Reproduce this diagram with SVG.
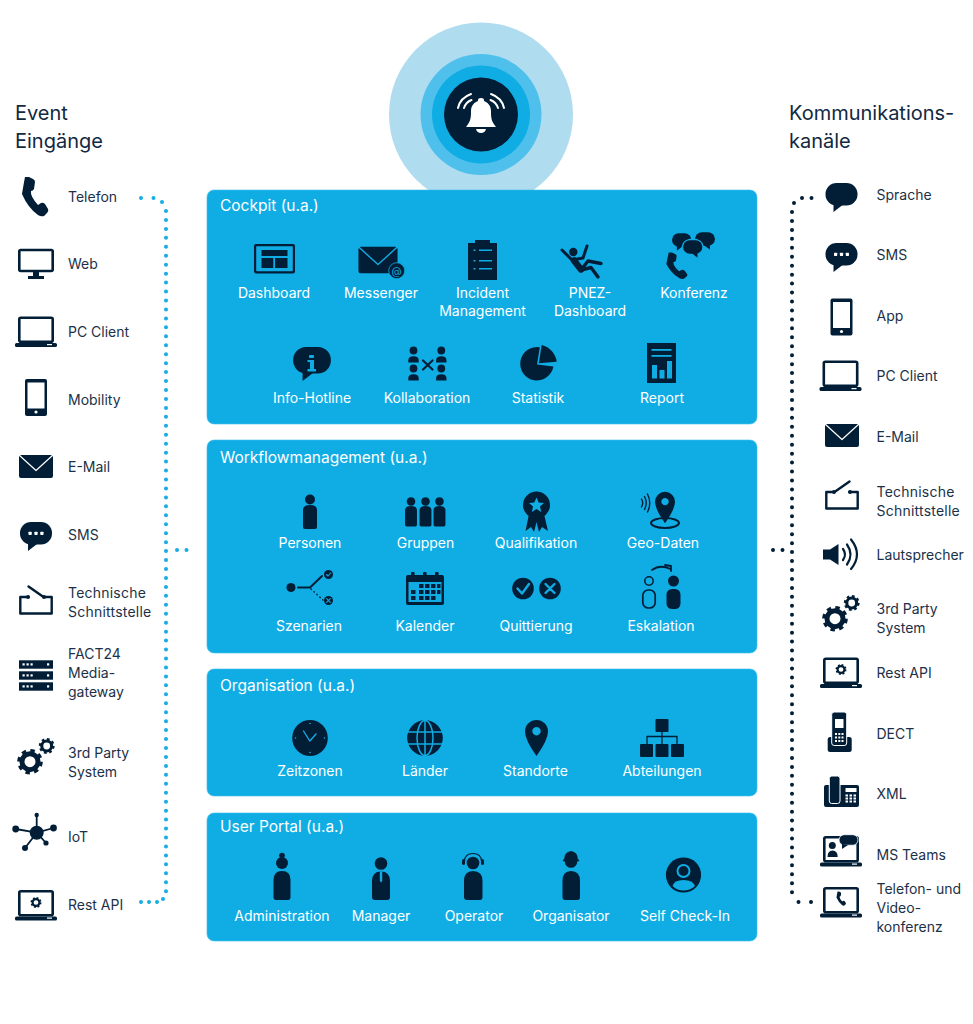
<svg xmlns="http://www.w3.org/2000/svg" width="973" height="1024" viewBox="0 0 973 1024">
<style>
text{font-family:Inter,"Noto Sans","Liberation Sans",sans-serif}
.h{font-size:20px;fill:#12293f}
.l{font-size:14px;fill:#1b3148}
.ls{letter-spacing:.22px}
.t{font-size:15.500px;fill:#fff}
.c{font-size:14px;fill:#fff;text-anchor:middle}
.p{fill:#10ade5;stroke:#3dbdea;stroke-width:.6}
.w{color:#fff}
.b{color:#10ade5}
.k{fill:#011e36}
.s{fill:none;stroke:#011e36;stroke-linecap:round;stroke-linejoin:round}
.x{fill:currentColor}
.y{fill:none;stroke:currentColor;stroke-linecap:round;stroke-linejoin:round}
.db{fill:none;stroke:#16ace4;stroke-width:4;stroke-linecap:round}
.dk{fill:none;stroke:#011e36;stroke-width:4;stroke-linecap:round}
</style>
<defs>
<symbol id="phone" overflow="visible"><path class="k" d="M-7-20-3-18Q-1-17-1-15L-2-8Q-3-6-5-6-6-1 2 8L5 6Q7 5 9 7L12 12Q13 14 11 16L8 19Q5 20 2 18-8 11-14-3-12-15-11-20-7-20Z"/></symbol>
<symbol id="monitor" overflow="visible"><rect class="s" x="-16.700" y="-14" width="33.400" height="21" rx="1.500" stroke-width="2.600"/><path class="k" d="M-3 8H3V12H8V15H-8V12H-3Z"/></symbol>
<symbol id="laptop" overflow="visible"><rect class="s" x="-16.700" y="-14.300" width="33.400" height="24" rx="1.500" stroke-width="2.600"/><rect class="k" x="-21" y="11" width="42" height="4" rx="1.600"/><rect x="11" y="12" width="5" height="1.200" class="x"/></symbol>
<symbol id="mobile" overflow="visible"><rect class="k" x="-11" y="-18.500" width="22" height="37" rx="2"/><rect class="x" x="-8.500" y="-15" width="17" height="26"/><circle class="x" cy="14.500" r="1.600"/></symbol>
<symbol id="mail" overflow="visible"><rect class="k" x="-17" y="-11.500" width="34" height="23" rx="2"/><path class="y" d="M-17-11.500 0 4 17-11.500" stroke-width="1.200"/></symbol>
<symbol id="bubble" overflow="visible"><rect class="k" x="-16" y="-14.500" width="32" height="22.500" rx="11"/><path class="k" d="M-8 5V14.500L3 6Z"/></symbol>
<symbol id="sms" overflow="visible"><use href="#bubble"/><rect class="x" x="-7.500" y="-4.800" width="3.200" height="3.200" rx=".6"/><rect class="x" x="-1.600" y="-4.800" width="3.200" height="3.200" rx=".6"/><rect class="x" x="4.300" y="-4.800" width="3.200" height="3.200" rx=".6"/></symbol>
<symbol id="switch" overflow="visible"><path class="s" stroke-width="2.400" d="M-7.500-3.500H-15.700V13H15.700V-3.500H7.500L-7.500-14"/><circle class="k" cx="-8" cy="-3.500" r="2"/><circle class="k" cx="8" cy="-3.500" r="2"/></symbol>
<symbol id="srow" overflow="visible"><rect class="k" x="-17" y="-4.200" width="34" height="8.400"/><rect class="x" x="-13.500" y="-1.200" width="2.200" height="2.200"/><rect class="x" x="-9.500" y="-1.200" width="2.200" height="2.200"/><rect class="x" x="-5.500" y="-1.200" width="2.200" height="2.200"/><rect class="x" x="11" y="-1.200" width="2.200" height="2.200"/></symbol>
<symbol id="gear" overflow="visible"><circle class="s" r="8" stroke-width="5"/><circle r="11" fill="none" stroke="#011e36" stroke-width="3.600" stroke-dasharray="4.400 4.240"/></symbol>
<symbol id="gears" overflow="visible"><use href="#gear" transform="translate(-6 4.700)"/><use href="#gear" transform="translate(10.700 -11) scale(.62)"/></symbol>
<symbol id="person" overflow="visible"><circle class="k" cy="-12.500" r="5"/><path class="k" d="M-7-2Q-7-7 0-7 7-7 7-2V15Q7 17 5 17H-5Q-7 17-7 15Z"/></symbol>
<symbol id="mini" overflow="visible"><circle class="k" r="3.900"/><path class="k" d="M-5.200 12V10Q-5.200 5.800 0 5.800 5.200 5.800 5.200 10V12Z"/></symbol>
<symbol id="pin" overflow="visible"><path class="k" fill-rule="evenodd" d="M0 18Q-11.500 2-11.500-6.500A11.500 11.500 0 0 1 11.500-6.500Q11.500 2 0 18ZM0-11A4.200 4.200 0 1 0 .01-11Z"/></symbol>
</defs>

<g id="alarm">
<circle cx="481" cy="114.500" r="92" fill="#b0dcf0"/>
<circle cx="481" cy="114.500" r="60.500" fill="#4fc0ec"/>
<circle cx="481" cy="114.500" r="49" fill="#10ade5"/>
<circle cx="481" cy="114.500" r="37" class="k"/>
<g transform="translate(481 114)" fill="#fff">
<path d="M-15 13C-10 7-10 3-10-3-10-9-6-12-3-13V-14Q-3-16 0-16 3-16 3-14V-13C6-12 10-9 10-3 10 3 10 7 15 13Z"/>
<path d="M-5 15H5Q4 19 0 19-4 19-5 15Z"/>
<g fill="none" stroke="#fff" stroke-width="2" stroke-linecap="round"><path d="M-23-6Q-21-16-10-20M-17-6Q-15-12-9.500-14M23-6Q21-16 10-20M17-6Q15-12 9.500-14"/></g>
</g>
</g>

<g id="panel-cockpit" class="b">
<rect class="p" x="207" y="190" width="550" height="234" rx="7"/>
<text class="t" x="220" y="211">Cockpit (u.a.)</text>
<g id="n-dashboard"><rect x="254" y="244" width="41" height="29.500" rx="2" class="k"/><rect x="256.200" y="246.200" width="36.600" height="25" rx=".8" class="x"/><rect x="261.500" y="250" width="26" height="6" class="k"/><rect x="261.500" y="258" width="11.800" height="10" class="k"/><rect x="275" y="258" width="12.500" height="10" class="k"/><text class="c" x="274" y="298">Dashboard</text></g>
<g id="n-messenger"><use href="#mail" transform="translate(378 260) scale(1.150)"/><circle class="k" cx="396.700" cy="270.700" r="8" stroke="#10ade5" stroke-width=".8"/><text x="396.700" y="274.500" font-size="10.500" text-anchor="middle" fill="#10ade5">@</text><text class="c" x="381" y="298">Messenger</text></g>
<g id="n-incident"><rect class="k" x="468" y="243" width="29" height="37"/><rect class="k" x="475" y="240" width="15" height="3.500"/><g fill="#10ade5"><rect x="473.500" y="249.500" width="2" height="1.500"/><rect x="479" y="249.500" width="13" height="1.500"/><rect x="473.500" y="260" width="2" height="1.500"/><rect x="479" y="260" width="13" height="1.500"/><rect x="473.500" y="268" width="2" height="1.500"/><rect x="479" y="268" width="13" height="1.500"/></g><text class="c" x="482.500" y="298">Incident</text><text class="c" x="482.500" y="316">Management</text></g>
<g id="n-pnez"><circle class="k" cx="573.300" cy="252" r="4.200"/><path class="s" stroke-width="3" d="M562 250 572 260 583 258 587 246"/><path class="s" stroke-width="6.500" d="M574 260.500 581 269.500"/><path class="s" stroke-width="3.400" d="M581 270 588 261 601 263.500M581 270 591 267.500 598 277"/><text class="c" x="590" y="298">PNEZ-</text><text class="c" x="590" y="316">Dashboard</text></g>
<g id="n-konferenz"><use href="#phone" transform="translate(677.500 266) scale(.8 .67)"/><use href="#bubble" transform="translate(681.700 242) scale(.6)"/><use href="#bubble" transform="translate(705 241) scale(-.62 .6)"/><ellipse cx="692.700" cy="246.500" rx="11" ry="8" fill="#10ade5"/><use href="#bubble" transform="translate(692.700 249) scale(-.6)  scale(1 -1)"/><text class="c" x="694" y="298">Konferenz</text></g>
<g id="n-info"><use href="#bubble" transform="translate(312 364) scale(1.180)"/><rect x="309" y="355" width="5" height="3" rx="1" fill="#10ade5"/><path d="M307.500 360H314V369H316V371.500H307.500V369H310V362H307.500Z" fill="#10ade5"/><text class="c" x="312" y="403">Info-Hotline</text></g>
<g id="n-kollab"><use href="#mini" transform="translate(413.500 350.500)"/><use href="#mini" transform="translate(441.300 350.500)"/><use href="#mini" transform="translate(413.500 368.500)"/><use href="#mini" transform="translate(441.300 368.500)"/><path class="s" stroke-width="2.200" d="M423 360.500 432.500 369.500M432.500 360.500 423 369.500"/><text class="c" x="427" y="403">Kollaboration</text></g>
<g id="n-statistik"><path class="k" d="M539.800 347.300 537 364.500 553.400 366.500A16.700 16.700 0 1 1 539.800 347.300Z"/><path class="k" d="M541.700 345A20 20 0 0 1 556.700 361.700L538.800 363.200Z"/><text class="c" x="538" y="403">Statistik</text></g>
<g id="n-report"><rect class="k" x="647" y="343" width="29" height="40"/><g fill="#10ade5"><rect x="651.500" y="349" width="20" height="1.800"/><rect x="651.500" y="355" width="20" height="1.800"/><rect x="652" y="365" width="5" height="13.500"/><rect x="659.500" y="370" width="5" height="8.500"/><rect x="667" y="361" width="5" height="17.500"/></g><text class="c" x="662" y="403">Report</text></g>
</g>

<g id="panel-workflow" class="b">
<rect class="p" x="207" y="440" width="550" height="213" rx="7"/>
<text class="t" x="220" y="463">Workflowmanagement (u.a.)</text>
<g id="n-personen"><use href="#person" transform="translate(310 512)"/><text class="c" x="310" y="548">Personen</text></g>
<g id="n-gruppen"><use href="#person" transform="translate(411 512) scale(.85)"/><use href="#person" transform="translate(425.500 512) scale(.85)"/><use href="#person" transform="translate(439.500 512) scale(.85)"/><text class="c" x="425.500" y="548">Gruppen</text></g>
<g id="n-quali"><path class="k" d="M529 514 525.500 531 531 527 534 532 536.500 522 539 532 542 527 548 531 544 514Z"/><circle class="k" cx="536.500" cy="505" r="13.500"/><path fill="#10ade5" d="M536.500 497.500 538.700 502.500 544 503 540 506.500 541.200 512 536.500 509 531.800 512 533 506.500 529 503 534.300 502.500Z"/><text class="c" x="536" y="548">Qualifikation</text></g>
<g id="n-geo"><ellipse cx="665" cy="523" rx="14" ry="5" fill="none" stroke="#011e36" stroke-width="2"/><use href="#pin" transform="translate(665 507.500) scale(.87)"/><path class="s" stroke-width="1.400" d="M641.500 499Q644 503 641.500 507M644.500 496.500Q648 503 644.500 509.500M647.500 494Q652 503 647.500 512"/><text class="c" x="663" y="548">Geo-Daten</text></g>
<g id="n-szenarien"><circle class="k" cx="291" cy="587.500" r="4.500"/><path class="s" stroke-width="2" d="M298 587.500H310L322 576"/><path class="s" stroke-width="1.500" stroke-dasharray=".5 3.500" d="M311 589 323 600"/><circle class="k" cx="328.500" cy="574.500" r="4.500"/><circle class="k" cx="328.500" cy="600.500" r="4.500"/><path class="y" stroke-width="1.100" d="M326.500 574.500 328 576 330.700 573M326.700 598.700 330.300 602.300M330.300 598.700 326.700 602.300"/><text class="c" x="309" y="631">Szenarien</text></g>
<g id="n-kalender"><rect class="k" x="406" y="575" width="38" height="30" rx="2"/><rect class="k" x="411" y="572" width="3.600" height="6" rx="1"/><rect class="k" x="423" y="572" width="3.600" height="6" rx="1"/><rect class="k" x="435" y="572" width="3.600" height="6" rx="1"/><rect class="x" x="408.500" y="582" width="33" height="20"/><g class="k"><rect x="419" y="584" width="4.500" height="4"/><rect x="425" y="584" width="4.500" height="4"/><rect x="431" y="584" width="4.500" height="4"/><rect x="437" y="584" width="3.500" height="4"/><rect x="411" y="590" width="4.500" height="4"/><rect x="419" y="590" width="4.500" height="4"/><rect x="425" y="590" width="4.500" height="4"/><rect x="431" y="590" width="4.500" height="4"/><rect x="437" y="590" width="3.500" height="4"/><rect x="411" y="596" width="4.500" height="4"/><rect x="419" y="596" width="4.500" height="4"/><rect x="425" y="596" width="4.500" height="4"/><rect x="431" y="596" width="4.500" height="4"/></g><text class="c" x="425" y="631">Kalender</text></g>
<g id="n-quitt"><circle class="k" cx="523" cy="588.500" r="10.800"/><circle class="k" cx="550" cy="588.500" r="10.800"/><path class="y" stroke-width="2.400" d="M517.500 588.500 522 593.500 529 584M545.500 584 554.500 593M554.500 584 545.500 593"/><text class="c" x="536" y="631">Quittierung</text></g>
<g id="n-eskalation"><circle cx="649" cy="581" r="4.200" fill="none" stroke="#011e36" stroke-width="1.500"/><rect x="642.800" y="590" width="12.400" height="18" rx="5.500" fill="none" stroke="#011e36" stroke-width="1.700"/><circle class="k" cx="673.500" cy="581" r="5.500"/><rect class="k" x="666.500" y="589" width="14" height="20" rx="5.500"/><path class="s" stroke-width="1.800" d="M652 570Q660 564 670.500 569M665 565 671 566 671 571"/><text class="c" x="661" y="631">Eskalation</text></g>
</g>

<g id="panel-organisation" class="b">
<rect class="p" x="207" y="669" width="550" height="127" rx="7"/>
<text class="t" x="220" y="691">Organisation (u.a.)</text>
<g id="n-zeit"><ellipse class="k" cx="310" cy="738" rx="17.800" ry="18"/><path class="y" stroke-width="1.400" d="M303.500 731 309.800 741 316 734"/><g class="x"><circle cx="310" cy="723.500" r=".8"/><circle cx="310" cy="752.500" r=".8"/><circle cx="295.500" cy="738" r=".8"/><circle cx="324.500" cy="738" r=".8"/></g><text class="c" x="310" y="776">Zeitzonen</text></g>
<g id="n-laender"><circle class="k" cx="425" cy="738" r="17.800"/><g class="y" stroke-width="1.500"><ellipse cx="425" cy="738" rx="8" ry="17.500"/><path d="M425 720V756M408 732H442M408 744H442"/></g><text class="c" x="425" y="776">Länder</text></g>
<g id="n-standorte"><use href="#pin" transform="translate(536.500 738)"/><text class="c" x="535.500" y="776">Standorte</text></g>
<g id="n-abteilungen"><rect class="k" x="655.500" y="719" width="13" height="13" rx="1"/><path class="s" stroke-width="1.300" d="M662 732V745M647 745V736.500H677V745"/><rect class="k" x="640" y="744" width="13" height="13" rx="1"/><rect class="k" x="655.500" y="744" width="13" height="13" rx="1"/><rect class="k" x="671" y="744" width="13" height="13" rx="1"/><text class="c" x="662" y="776">Abteilungen</text></g>
</g>

<g id="panel-portal" class="b">
<rect class="p" x="207" y="813" width="550" height="128" rx="7"/>
<text class="t" x="220" y="832">User Portal (u.a.)</text>
<g id="n-admin"><circle class="k" cx="282" cy="863" r="6"/><circle class="k" cx="282" cy="855.500" r="2.800"/><path class="k" d="M273.500 880Q273.500 871 282 871 290.500 871 290.500 880V897Q290.500 900 288 900H276Q273.500 900 273.500 897Z"/><text class="c" x="282" y="921">Administration</text></g>
<g id="n-manager"><circle class="k" cx="381" cy="863.500" r="6.300"/><path class="k" d="M372 881Q372 871.500 381 871.500 390 871.500 390 881V897Q390 900 387 900H375Q372 900 372 897Z"/><path d="M379.800 871.500H382.200V881L381 882.500 379.800 881Z" fill="#10ade5"/><text class="c" x="381" y="921">Manager</text></g>
<g id="n-operator"><circle class="k" cx="473" cy="863" r="6.300"/><path class="s" stroke-width="1.200" d="M464.500 861Q465 853.500 473 853.500 481 853.500 481.500 861"/><rect class="k" x="462" y="859" width="3" height="6" rx="1.500"/><rect class="k" x="481" y="859" width="3" height="6" rx="1.500"/><path class="k" d="M464 881Q464 871 473 871 482.500 871 482.500 881V897Q482.500 900 480 900H467Q464 900 464 897Z"/><text class="c" x="474" y="921">Operator</text></g>
<g id="n-organisator"><circle class="k" cx="571" cy="861.500" r="6.300"/><path class="k" d="M564 860Q564 852 571 851 578 852 578 860Z"/><rect class="k" x="562.800" y="859.500" width="16.400" height="1.800" rx=".9"/><path class="k" d="M562.500 881Q562.500 871 571 871 580 871 580 881V897Q580 900 577.500 900H565Q562.500 900 562.500 897Z"/><text class="c" x="571" y="921">Organisator</text></g>
<g id="n-selfcheck"><circle class="k" cx="683.500" cy="875" r="17.600"/><circle cx="683.500" cy="871" r="6" fill="none" stroke="#10ade5" stroke-width="2"/><path d="M672.500 886Q674 880 683.500 880 693 880 695 886 690 890.500 683.500 890.500 677 890.500 672.500 886Z" fill="#10ade5"/><text class="c" x="685" y="921">Self Check-In</text></g>
</g>

<g id="connectors">
<path class="db" stroke-dasharray="0 12.500" d="M141 198H154"/>
<path class="db" d="M162 202v0"/>
<path class="db" stroke-dasharray="0 8.950" d="M166 211V895"/>
<path class="db" d="M163 899v0"/>
<path class="db" stroke-dasharray="0 8" d="M141 902H158"/>
<path class="db" stroke-dasharray="0 9.500" d="M177 550H187"/>
<path class="dk" stroke-dasharray="0 9.500" d="M802 198H812"/>
<path class="dk" d="M794 203v0"/>
<path class="dk" stroke-dasharray="0 8.950" d="M792 212V895"/>
<path class="dk" stroke-dasharray="0 12.500" d="M798.500 902H812"/>
<path class="dk" stroke-dasharray="0 9.500" d="M773 550H783"/>
</g>

<g id="event-inputs" class="w">
<text class="h" x="15" y="120">Event</text><text class="h" x="15" y="148">Eingänge</text>
<g id="e-telefon"><use href="#phone" transform="translate(36 197)"/><text class="l" x="68" y="202">Telefon</text></g>
<g id="e-web"><use href="#monitor" transform="translate(36 264)"/><text class="l" x="68" y="269">Web</text></g>
<g id="e-pc"><use href="#laptop" transform="translate(36 332)"/><text class="l" x="68" y="337">PC Client</text></g>
<g id="e-mobility"><use href="#mobile" transform="translate(36 397.500)"/><text class="l" x="68" y="405">Mobility</text></g>
<g id="e-mail"><use href="#mail" transform="translate(36 466.500)"/><text class="l" x="68" y="472">E-Mail</text></g>
<g id="e-sms"><use href="#sms" transform="translate(36 536.500)"/><text class="l" x="68" y="540">SMS</text></g>
<g id="e-tech"><use href="#switch" transform="translate(36 600.500)"/><text class="l ls" x="68" y="598">Technische</text><text class="l ls" x="68" y="617">Schnittstelle</text></g>
<g id="e-gateway"><use href="#srow" transform="translate(36 664.500)"/><use href="#srow" transform="translate(36 675.500)"/><use href="#srow" transform="translate(36 686.500)"/><text class="l" x="68" y="659">FACT24</text><text class="l" x="68" y="678">Media-</text><text class="l" x="68" y="697">gateway</text></g>
<g id="e-3rd"><use href="#gears" transform="translate(36 757)"/><text class="l" x="68" y="758">3rd Party</text><text class="l" x="68" y="777">System</text></g>
<g id="e-iot"><path class="s" stroke-width="1.800" d="M36.700 832.700V815M36.700 832.700 15.700 829M36.700 832.700 53.500 828M36.700 832.700 25 848M36.700 832.700 46 843"/><circle class="k" cx="36.700" cy="832.700" r="7"/><circle class="k" cx="36.700" cy="815" r="2.200"/><circle class="k" cx="15.700" cy="829" r="3.400"/><circle class="k" cx="53.500" cy="828" r="3.400"/><circle class="k" cx="25" cy="848" r="3"/><circle class="k" cx="46" cy="843" r="2.600"/><text class="l" x="68" y="842">IoT</text></g>
<g id="e-rest"><use href="#laptop" transform="translate(36 905.500)"/><use href="#gear" transform="translate(36 902.500) scale(.43)"/><text class="l" x="68" y="910">Rest API</text></g>
</g>

<g id="channels" class="w">
<text class="h" x="789" y="120">Kommunikations-</text><text class="h" x="789" y="148">kanäle</text>
<g id="c-sprache"><use href="#bubble" transform="translate(841.500 197.500)"/><text class="l" x="876.500" y="200">Sprache</text></g>
<g id="c-sms"><use href="#sms" transform="translate(841.500 257.500)"/><text class="l" x="876.500" y="260">SMS</text></g>
<g id="c-app"><use href="#mobile" transform="translate(841.500 317)"/><text class="l" x="876.500" y="321">App</text></g>
<g id="c-pc"><use href="#laptop" transform="translate(840.500 376)"/><text class="l" x="876.500" y="381">PC Client</text></g>
<g id="c-mail"><use href="#mail" transform="translate(842 435.500)"/><text class="l" x="876.500" y="442">E-Mail</text></g>
<g id="c-tech"><use href="#switch" transform="translate(842 495.500) scale(-1 1)"/><text class="l ls" x="876.500" y="497">Technische</text><text class="l ls" x="876.500" y="516">Schnittstelle</text></g>
<g id="c-laut"><path class="k" d="M823 549.500H830L838.500 544V565L830 559.500H823Z"/><path class="s" stroke-width="2.200" d="M843 549Q847 554.500 843 560M847 544.500Q854 554.500 847 564.500M851 539.500Q863 554.500 851 569"/><text class="l" x="876.500" y="560">Lautsprecher</text></g>
<g id="c-3rd"><use href="#gears" transform="translate(841 614)"/><text class="l" x="876.500" y="614">3rd Party</text><text class="l" x="876.500" y="633">System</text></g>
<g id="c-rest"><use href="#laptop" transform="translate(841 673)"/><use href="#gear" transform="translate(841 669.500) scale(.43)"/><text class="l" x="876.500" y="678">Rest API</text></g>
<g id="c-dect"><rect class="k" x="827.700" y="737" width="24" height="15" rx="2.500"/><rect class="k" x="831.700" y="712" width="15" height="33.500" rx="2.500" stroke="#fff" stroke-width="1"/><rect class="x" x="835" y="719" width="8.500" height="9"/><g fill="#fff"><rect x="835" y="733" width="2" height="2"/><rect x="838.300" y="733" width="2" height="2"/><rect x="841.500" y="733" width="2" height="2"/><rect x="835" y="736.500" width="2" height="2"/><rect x="838.300" y="736.500" width="2" height="2"/><rect x="841.500" y="736.500" width="2" height="2"/><rect x="835" y="740" width="2" height="2"/><rect x="838.300" y="740" width="2" height="2"/><rect x="841.500" y="740" width="2" height="2"/></g><text class="l" x="876.500" y="739">DECT</text></g>
<g id="c-xml"><rect class="k" x="824" y="785" width="35" height="22" rx="2"/><rect class="k" x="829.300" y="776" width="10.700" height="27.500" rx="2.500" stroke="#fff" stroke-width="1"/><rect class="x" x="845.500" y="788" width="11" height="4"/><g fill="#fff"><rect x="845.500" y="794.500" width="2.500" height="2"/><rect x="849.500" y="794.500" width="2.500" height="2"/><rect x="853.500" y="794.500" width="2.500" height="2"/><rect x="845.500" y="797.500" width="2.500" height="2"/><rect x="849.500" y="797.500" width="2.500" height="2"/><rect x="853.500" y="797.500" width="2.500" height="2"/><rect x="845.500" y="800.500" width="2.500" height="2"/><rect x="849.500" y="800.500" width="2.500" height="2"/><rect x="853.500" y="800.500" width="2.500" height="2"/></g><text class="l" x="876.500" y="799">XML</text></g>
<g id="c-teams"><use href="#laptop" transform="translate(841 851.500)"/><circle class="k" cx="832.300" cy="845.500" r="3.500"/><path class="k" d="M827.500 857Q827.500 850.500 832.500 850.500 837.700 850.500 837.700 857Z"/><rect class="k" x="839" y="834.700" width="19" height="10.500" rx="5.200" stroke="#fff" stroke-width=".8"/><path class="k" d="M842 844V849L848 845Z"/><text class="l" x="876.500" y="860">MS Teams</text></g>
<g id="c-tele"><use href="#laptop" transform="translate(841 902.500)"/><use href="#phone" transform="translate(841.500 898.700) scale(.36)"/><text class="l" x="876.500" y="894">Telefon- und</text><text class="l" x="876.500" y="913">Video-</text><text class="l" x="876.500" y="932">konferenz</text></g>
</g>
</svg>
